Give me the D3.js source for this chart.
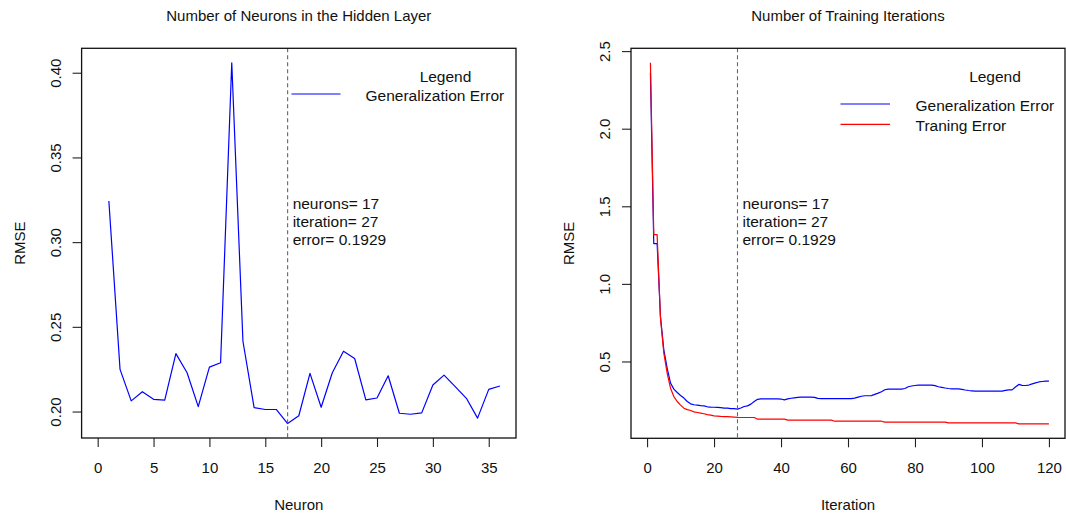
<!DOCTYPE html>
<html>
<head>
<meta charset="utf-8">
<script src="https://cdn.jsdelivr.net/npm/d3@7/dist/d3.min.js"></script>
<style>
  html, body { margin: 0; padding: 0; background: #fff; }
  svg { display: block; }
  text { font-family: "Liberation Sans", Arial, Helvetica, sans-serif; fill: #111; }
</style>
</head>
<body>
<svg id="chart" width="1066" height="518"></svg>
<script>
// RMSE of the network for each hidden-layer size (1..36 neurons)
const neurons = d3.range(1, 37);
const neuronError = [
  0.3243, 0.2249, 0.2063, 0.2117, 0.2072, 0.2067, 0.2342, 0.2229, 0.2029, 0.2262,
  0.2288, 0.4059, 0.2415, 0.2023, 0.2012, 0.2012, 0.1929, 0.1975, 0.2225, 0.2025,
  0.2229, 0.2356, 0.2313, 0.2069, 0.2080, 0.2211, 0.1990, 0.1984, 0.1992, 0.2157,
  0.2215, 0.2147, 0.2078, 0.1961, 0.2131, 0.2151
];

// RMSE per training iteration (1..120)
const iterations = d3.range(1, 121);
const generalizationError = [
  2.360, 1.260, 1.260, 0.790, 0.575, 0.457, 0.361, 0.322, 0.300, 0.281,
  0.264, 0.242, 0.227, 0.221, 0.219, 0.216, 0.214, 0.208, 0.206, 0.205,
  0.204, 0.202, 0.199, 0.199, 0.196, 0.196, 0.1929, 0.200, 0.210, 0.214,
  0.225, 0.242, 0.256, 0.259, 0.259, 0.259, 0.259, 0.259, 0.259, 0.258,
  0.253, 0.259, 0.263, 0.266, 0.269, 0.270, 0.270, 0.270, 0.270, 0.269,
  0.262, 0.261, 0.261, 0.261, 0.261, 0.261, 0.261, 0.261, 0.261, 0.261,
  0.261, 0.264, 0.270, 0.276, 0.279, 0.279, 0.280, 0.288, 0.296, 0.305,
  0.318, 0.322, 0.322, 0.322, 0.322, 0.322, 0.326, 0.337, 0.342, 0.345,
  0.347, 0.347, 0.347, 0.347, 0.347, 0.344, 0.337, 0.333, 0.329, 0.326,
  0.324, 0.324, 0.323, 0.320, 0.316, 0.313, 0.311, 0.309, 0.309, 0.309,
  0.309, 0.309, 0.309, 0.309, 0.309, 0.309, 0.314, 0.317, 0.317, 0.335,
  0.352, 0.346, 0.345, 0.348, 0.356, 0.362, 0.368, 0.371, 0.373, 0.373
];
const trainingError = [
  2.425, 1.317, 1.317, 0.780, 0.554, 0.425, 0.328, 0.274, 0.242, 0.219,
  0.199, 0.190, 0.184, 0.175, 0.171, 0.167, 0.163, 0.158, 0.154, 0.150,
  0.148, 0.146, 0.145, 0.144, 0.143, 0.142, 0.140, 0.139, 0.139, 0.139,
  0.139, 0.139, 0.128, 0.128, 0.128, 0.128, 0.128, 0.128, 0.128, 0.128,
  0.128, 0.122, 0.122, 0.122, 0.122, 0.122, 0.122, 0.122, 0.122, 0.122,
  0.122, 0.122, 0.122, 0.122, 0.122, 0.115, 0.115, 0.115, 0.115, 0.115,
  0.115, 0.115, 0.115, 0.115, 0.115, 0.115, 0.115, 0.115, 0.115, 0.115,
  0.109, 0.109, 0.109, 0.109, 0.109, 0.109, 0.109, 0.109, 0.109, 0.109,
  0.109, 0.109, 0.109, 0.109, 0.109, 0.109, 0.109, 0.109, 0.109, 0.104,
  0.104, 0.104, 0.104, 0.104, 0.104, 0.104, 0.104, 0.104, 0.104, 0.104,
  0.104, 0.104, 0.104, 0.104, 0.104, 0.104, 0.104, 0.104, 0.104, 0.104,
  0.098, 0.098, 0.098, 0.098, 0.098, 0.098, 0.098, 0.098, 0.098, 0.098
];

// Chosen configuration
const bestNeurons = 17;
const bestIteration = 27;
const bestError = 0.1929;

const neuronTicks = [0, 5, 10, 15, 20, 25, 30, 35];
const neuronErrorTicks = [0.20, 0.25, 0.30, 0.35, 0.40];
const iterationTicks = [0, 20, 40, 60, 80, 100, 120];
const iterationErrorTicks = [0.5, 1.0, 1.5, 2.0, 2.5];

const annotationLines = [
  "neurons= " + bestNeurons,
  "iteration= " + bestIteration,
  "error= " + bestError
];

const svg = d3.select("#chart");
const FS = 15;
const BLUE = "#0000ff", RED = "#ff0000";

// extend a range by 4% on each side
function padded(lo, hi) {
  const e = (hi - lo) * 0.04;
  return [lo - e, hi + e];
}

function panel(opts) {
  const { left, right, top, bottom } = opts.box;
  const x = d3.scaleLinear().domain(opts.xDomain).range([left, right]);
  const y = d3.scaleLinear().domain(opts.yDomain).range([bottom, top]);
  const g = svg.append("g");

  // title
  g.append("text")
    .attr("x", (left + right) / 2).attr("y", 20.5)
    .attr("text-anchor", "middle").style("font-size", FS + "px")
    .text(opts.title);

  // x axis
  const xa = g.append("g").attr("transform", `translate(0,${bottom})`)
    .call(d3.axisBottom(x).tickValues(opts.xTicks).tickSize(9).tickFormat(d3.format("d")));
  xa.select(".domain").remove();
  xa.selectAll(".tick line").attr("stroke", "#222").attr("stroke-width", 1.1);
  xa.selectAll(".tick text").attr("y", 35).attr("dy", 0)
    .style("font-size", FS + "px").style("font-family", null).attr("fill", "#111");
  xa.attr("font-family", null).attr("font-size", null);

  // y axis with rotated labels
  const ya = g.append("g").attr("transform", `translate(${left},0)`)
    .call(d3.axisLeft(y).tickValues(opts.yTicks).tickSize(9).tickFormat(opts.yFormat));
  ya.select(".domain").remove();
  ya.selectAll(".tick line").attr("stroke", "#222").attr("stroke-width", 1.1);
  ya.selectAll(".tick text")
    .attr("x", 0).attr("y", -21).attr("dy", 0)
    .attr("transform", "rotate(-90)")
    .attr("text-anchor", "middle")
    .style("font-size", FS + "px").attr("fill", "#111");
  ya.attr("font-family", null).attr("font-size", null);

  // axis titles
  g.append("text")
    .attr("x", (left + right) / 2).attr("y", 510)
    .attr("text-anchor", "middle").style("font-size", FS + "px")
    .text(opts.xLabel);
  g.append("text")
    .attr("transform", `translate(${left - 57},${(top + bottom) / 2}) rotate(-90)`)
    .attr("text-anchor", "middle").style("font-size", FS + "px")
    .text("RMSE");

  // series
  opts.series.forEach(s => {
    const line = d3.line().x((d, i) => x(s.xs[i])).y(d => y(d));
    g.append("path").datum(s.values)
      .attr("d", line)
      .attr("fill", "none")
      .attr("stroke", s.color)
      .attr("stroke-width", 1.2)
      .attr("stroke-linejoin", "round");
  });

  // marker at the chosen value
  g.append("line")
    .attr("x1", x(opts.markX)).attr("x2", x(opts.markX))
    .attr("y1", top).attr("y2", bottom)
    .attr("stroke", "#666").attr("stroke-width", 1.1)
    .attr("stroke-dasharray", "4,3");

  g.append("g").selectAll("text").data(annotationLines).join("text")
    .attr("x", x(opts.markX) + 5)
    .attr("y", (d, i) => 208.5 + i * 18)
    .style("font-size", "15.5px")
    .text(d => d);

  // legend
  const lg = g.append("g");
  lg.append("text")
    .attr("x", opts.legend.titleX).attr("y", 82)
    .attr("text-anchor", "middle").style("font-size", "15.5px")
    .text("Legend");
  opts.series.forEach((s, i) => {
    const ly = opts.legend.firstY + i * opts.legend.step;
    lg.append("line")
      .attr("x1", opts.legend.lineX1).attr("x2", opts.legend.lineX2)
      .attr("y1", ly).attr("y2", ly)
      .attr("stroke", s.color).attr("stroke-width", 1.2);
    lg.append("text")
      .attr("x", opts.legend.textX).attr("y", ly + 7)
      .style("font-size", "15.5px")
      .text(s.name);
  });

  // frame
  g.append("rect")
    .attr("x", left).attr("y", top)
    .attr("width", right - left).attr("height", bottom - top)
    .attr("fill", "none").attr("stroke", "#111").attr("stroke-width", 1.3);
}

const nExt = d3.extent(neuronError);
panel({
  box: { left: 81.6, right: 516, top: 48.3, bottom: 438 },
  title: "Number of Neurons in the Hidden Layer",
  xLabel: "Neuron",
  xDomain: padded(0, 36),
  yDomain: padded(nExt[0], nExt[1]),
  xTicks: neuronTicks,
  yTicks: neuronErrorTicks,
  yFormat: d3.format(".2f"),
  series: [
    { name: "Generalization Error", xs: neurons, values: neuronError, color: BLUE }
  ],
  markX: bestNeurons,
  legend: { titleX: 445.5, firstY: 94, step: 20, lineX1: 291.5, lineX2: 340.5, textX: 365.5 }
});

const iExt = d3.extent(generalizationError.concat(trainingError));
panel({
  box: { left: 631, right: 1065, top: 48.3, bottom: 438.3 },
  title: "Number of Training Iterations",
  xLabel: "Iteration",
  xDomain: padded(0, 120),
  yDomain: padded(iExt[0], iExt[1]),
  xTicks: iterationTicks,
  yTicks: iterationErrorTicks,
  yFormat: d3.format(".1f"),
  series: [
    { name: "Generalization Error", xs: iterations, values: generalizationError, color: BLUE },
    { name: "Traning Error", xs: iterations, values: trainingError, color: RED }
  ],
  markX: bestIteration,
  legend: { titleX: 995, firstY: 104, step: 20.3, lineX1: 840.5, lineX2: 890, textX: 915.5 }
});
</script>
</body>
</html>
